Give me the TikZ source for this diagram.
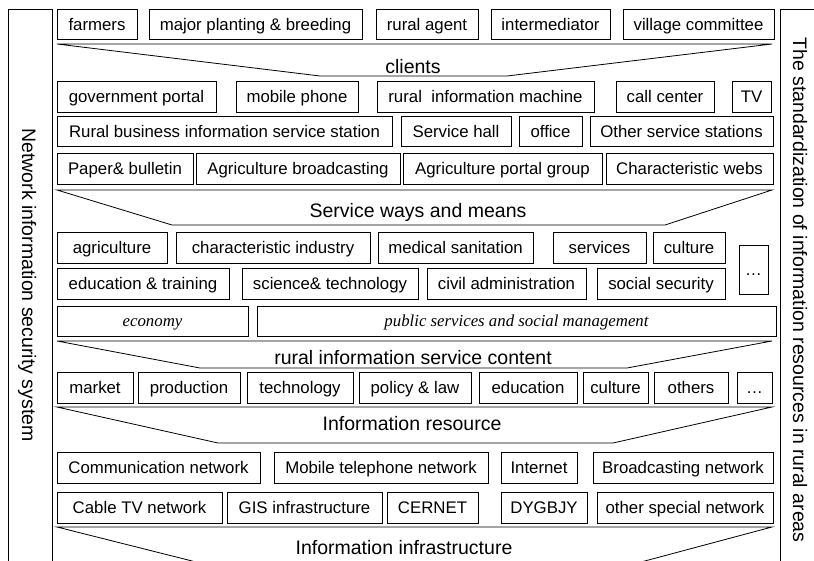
\documentclass[tikz,border=0pt]{standalone}
\usepackage{fontspec}
\setmainfont{Liberation Sans}
\newfontfamily\serifit{Liberation Serif}
\tikzset{
  box/.style={draw, line width=0.8pt, inner sep=0pt, font=\fontsize{16.8}{18}\selectfont, text height=12pt, text depth=0pt},
  ital/.style={box, font=\fontsize{16.8}{18}\selectfont\serifit\itshape, text height=11pt},
  band/.style={draw, line width=0.8pt, line join=miter},
  title/.style={inner sep=0pt, font=\fontsize{19.5}{22}\selectfont, text height=14pt, text depth=0pt},
  side/.style={draw, line width=0.8pt},
  sidetext/.style={inner sep=0pt, font=\fontsize{19.5}{22}\selectfont, text height=14pt, text depth=0pt, rotate=-90}
}
\newcommand\bx[7][box]{\node[#1, minimum width={#5-#3}, minimum height={#6-#4}] (#2) at ({(#3+#5)/2},{(#4+#6)/2}) {#7};}
\newcommand\bandshape[4]{\draw[band] (57,#1) -- (772,#1) -- (#4,#2) -- (#3,#2) -- cycle;}
\begin{document}
\begin{tikzpicture}[x=1pt,y=-1pt]
\useasboundingbox (0,0) rectangle (814,560);
\clip (0,0) rectangle (814,560);
% side boxes
\draw[side] (8,9) rectangle (52,580);
\node[sidetext] (security) at (29,285) {Network information security system};
\draw[side] (780,9) rectangle (840,580);
\node[sidetext] (standard) at (800,290) {The standardization of information resources in rural areas};
% row 1
\bx{farmers}{57}{9}{137}{39}{farmers}
\bx{major}{149}{9}{362}{39}{major planting \& breeding}
\bx{agent}{376}{9}{478}{39}{rural agent}
\bx{interm}{491}{9}{610}{39}{intermediator}
\bx{village}{623}{9}{774}{39}{village committee}
\bandshape{44}{76}{320}{507}
\node[title] (clients) at (413,66) {clients};
% row 2
\bx{gov}{57}{81}{216}{112}{government portal}
\bx{mobile}{236}{81}{358}{112}{mobile phone}
\bx{machine}{377}{81}{594}{112}{rural\ \ information machine}
\bx{call}{616}{81}{714}{112}{call center}
\bx{tv}{732}{81}{771}{112}{TV}
% row 3
\bx{station}{57}{116}{392}{146}{Rural business information service station}
\bx{hall}{401}{116}{511}{146}{Service hall}
\bx{office}{519}{116}{582}{146}{office}
\bx{otherst}{590}{116}{773}{146}{Other service stations}
% row 4
\bx{paper}{57}{153}{193}{184}{Paper\& bulletin}
\bx{broad}{196}{153}{400}{184}{Agriculture broadcasting}
\bx{portalgrp}{403}{153}{602}{184}{Agriculture portal group}
\bx{webs}{606}{153}{773}{184}{Characteristic webs}
\bandshape{190}{225}{172}{665}
\node[title] (ways) at (418,210) {Service ways and means};
% row 5
\bx{agri}{57}{232}{167}{263}{agriculture}
\bx{charind}{176}{232}{370}{263}{characteristic industry}
\bx{medical}{378}{232}{533}{263}{medical sanitation}
\bx{services}{553}{232}{646}{263}{services}
\bx{culturea}{653}{232}{725}{263}{culture}
\bx{dotsa}{739}{245}{768}{294}{…}
% row 6
\bx{edutrain}{57}{268}{229}{299}{education \& training}
\bx{scitech}{242}{268}{418}{299}{science\& technology}
\bx{civil}{427}{268}{586}{299}{civil administration}
\bx{social}{597}{268}{725}{299}{social security}
% row 7
\bx[ital]{economy}{57}{306}{248}{336}{economy}
\bx[ital]{public}{257}{306}{776}{336}{public services and social management}
\bandshape{341}{368}{200}{627}
\node[title] (content) at (413,357) {rural information service content};
% row 8
\bx{market}{57}{372}{133}{403}{market}
\bx{production}{138}{372}{240}{403}{production}
\bx{technology}{247}{372}{353}{403}{technology}
\bx{policy}{359}{372}{471}{403}{policy \& law}
\bx{education}{479}{372}{577}{403}{education}
\bx{cultureb}{583}{372}{648}{403}{culture}
\bx{others}{654}{372}{728}{403}{others}
\bx{dotsb}{737}{372}{772}{403}{…}
\bandshape{407}{443}{218}{613}
\node[title] (resource) at (412,423) {Information resource};
% row 9
\bx{comm}{57}{452}{260}{483}{Communication network}
\bx{mobilenet}{274}{452}{488}{483}{Mobile telephone network}
\bx{internet}{501}{452}{577}{483}{Internet}
\bx{broadnet}{593}{452}{773}{483}{Broadcasting network}
% row 10
\bx{cable}{57}{492}{222}{523}{Cable TV network}
\bx{gis}{227}{492}{382}{523}{GIS infrastructure}
\bx{cernet}{387}{492}{478}{523}{CERNET}
\bx{dygbjy}{501}{492}{587}{523}{DYGBJY}
\bx{special}{597}{492}{773}{523}{other special network}
\bandshape{527}{566}{212}{626}
\node[title] (infra) at (404,547) {Information infrastructure};
\end{tikzpicture}
\end{document}
